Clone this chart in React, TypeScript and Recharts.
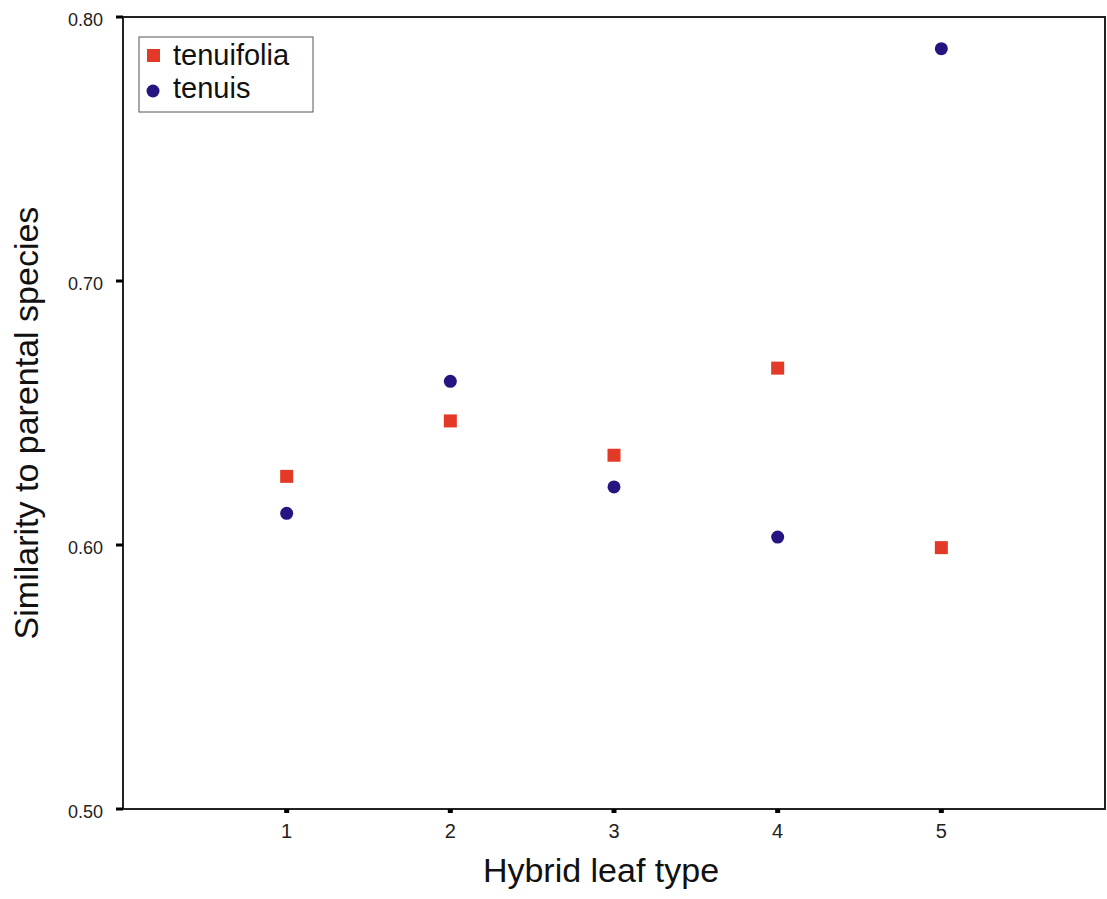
import { Label, ReferenceArea, Scatter, ScatterChart, XAxis, YAxis } from 'recharts';

const leafTypes = [1, 2, 3, 4, 5];
const tenuifolia = [0.626, 0.647, 0.634, 0.667, 0.599];
const tenuis = [0.612, 0.662, 0.622, 0.603, 0.788];
const yTicks = [0.5, 0.6, 0.7, 0.8];

const red = '#e23a26';
const navy = '#261580';
const font = 'Liberation Sans, Arial, sans-serif';

const tenuifoliaData = leafTypes.map((x, i) => ({ x, y: tenuifolia[i] }));
const tenuisData = leafTypes.map((x, i) => ({ x, y: tenuis[i] }));

const Square = (p: any) => (
  <rect x={p.cx - 6.5} y={p.cy - 6.5} width={13} height={13} fill={red} />
);

const Dot = (p: any) => <circle cx={p.cx} cy={p.cy} r={6.5} fill={navy} />;

// legend box drawn over the plot, top-left corner
const LegendBox = () => (
  <svg
    width={176}
    height={77}
    style={{ position: 'absolute', left: 138, top: 36, display: 'block' }}
  >
    <rect x={1} y={1} width={174} height={75} fill="#fff" stroke="#555" />
    <rect x={9} y={13} width={13} height={13} fill={red} />
    <text x={35} y={29} fontSize={29} fontFamily={font} fill="#111">
      tenuifolia
    </text>
    <circle cx={15} cy={55} r={6.5} fill={navy} />
    <text x={35} y={62} fontSize={29} fontFamily={font} fill="#111">
      tenuis
    </text>
  </svg>
);

export default function App() {
  return (
    <div style={{ position: 'absolute', left: 0, top: 0, background: '#fff' }}>
      <ScatterChart
        width={1107}
        height={899}
        margin={{ top: 17, right: 2, left: 0, bottom: 0 }}
      >
        <XAxis
          type="number"
          dataKey="x"
          domain={[0, 6]}
          ticks={leafTypes}
          height={90}
          tickSize={4}
          tickMargin={11}
          axisLine={{ stroke: '#222', strokeWidth: 2 }}
          tickLine={{ stroke: '#000', strokeWidth: 5 }}
          tick={{ fontSize: 20, fontFamily: font, fill: '#222' }}
        >
          <Label
            content={() => (
              <text
                x={601}
                y={882}
                textAnchor="middle"
                fontSize={34}
                fontFamily={font}
                fill="#111"
              >
                Hybrid leaf type
              </text>
            )}
          />
        </XAxis>
        <YAxis
          type="number"
          dataKey="y"
          domain={[0.5, 0.8]}
          ticks={yTicks}
          width={123}
          tickSize={7}
          tickMargin={13}
          tickFormatter={(v: number) => v.toFixed(2)}
          axisLine={{ stroke: '#222', strokeWidth: 2 }}
          tickLine={{ stroke: '#000', strokeWidth: 3 }}
          tick={{ fontSize: 18, fontFamily: font, fill: '#222', dy: 3 }}
        >
          <Label
            content={() => (
              <text
                x={38}
                y={423}
                transform="rotate(-90 38 423)"
                textAnchor="middle"
                fontSize={34}
                fontFamily={font}
                fill="#111"
              >
                Similarity to parental species
              </text>
            )}
          />
        </YAxis>
        <ReferenceArea
          x1={0}
          x2={6}
          y1={0.5}
          y2={0.8}
          fill="none"
          stroke="#222"
          strokeWidth={2}
          ifOverflow="extendDomain"
        />
        <Scatter
          name="tenuifolia"
          data={tenuifoliaData}
          shape={<Square />}
          isAnimationActive={false}
        />
        <Scatter
          name="tenuis"
          data={tenuisData}
          shape={<Dot />}
          isAnimationActive={false}
        />
      </ScatterChart>
      <LegendBox />
    </div>
  );
}
